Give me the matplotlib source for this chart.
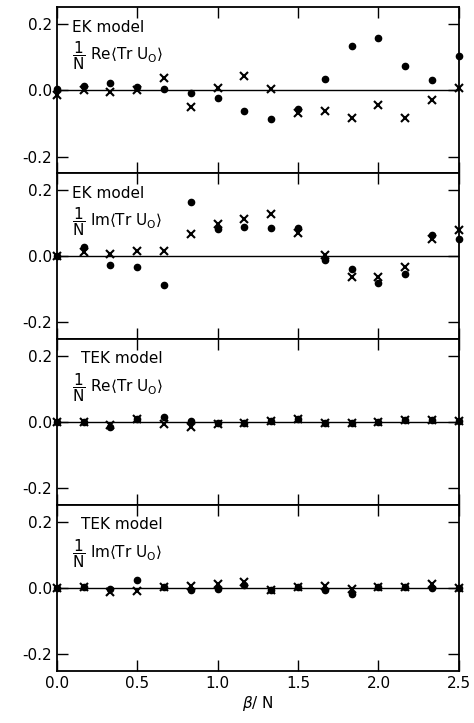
import matplotlib
matplotlib.use("Agg")
import matplotlib.pyplot as plt

# beta/N grid, 16 points spaced 1/6
beta = [0.0, 1/6, 2/6, 0.5, 4/6, 5/6, 1.0, 7/6, 8/6, 1.5, 10/6, 11/6, 2.0, 13/6, 14/6, 2.5]

ek_re_dot = [0.003, 0.012, 0.022, 0.011, 0.005, -0.007, -0.023, -0.064, -0.088, -0.057,
             0.034, 0.132, 0.158, 0.072, 0.032, 0.104]
ek_re_x = [-0.014, 0.002, -0.006, 0.0, 0.036, -0.050, 0.008, 0.042, 0.005, -0.068,
           -0.063, -0.085, -0.045, -0.085, -0.030, 0.006]

ek_im_dot = [0.0, 0.026, -0.027, -0.034, -0.086, 0.163, 0.083, 0.087, 0.085, 0.085,
             -0.012, -0.040, -0.082, -0.055, 0.065, 0.051]
ek_im_x = [0.0, 0.013, 0.006, 0.015, 0.015, 0.068, 0.098, 0.113, 0.128, 0.071,
           0.003, -0.062, -0.062, -0.032, 0.053, 0.080]

tek_re_dot = [0.0, 0.0, -0.014, 0.008, 0.015, 0.002, -0.004, -0.003, 0.002, 0.010,
              -0.002, -0.004, 0.001, 0.007, 0.007, 0.002]
tek_re_x = [0.0, -0.001, -0.010, 0.008, -0.007, -0.015, -0.005, -0.003, 0.002, 0.010,
            -0.003, -0.003, 0.001, 0.007, 0.007, 0.002]

tek_im_dot = [0.0, 0.002, -0.002, 0.023, 0.003, -0.007, -0.002, 0.008, -0.007, 0.003,
              -0.005, -0.017, 0.003, 0.002, 0.0, 0.0]
tek_im_x = [0.0, 0.003, -0.012, -0.009, 0.003, 0.006, 0.013, 0.017, -0.007, 0.003,
            0.007, -0.002, 0.003, 0.003, 0.011, 0.0]

frac = r"$\dfrac{\mathrm{1}}{\mathrm{N}}$"
panels = [
    ("EK model", frac + r" Re$\langle$Tr U$_\mathrm{O}\rangle$", ek_re_dot, ek_re_x),
    ("EK model", frac + r" Im$\langle$Tr U$_\mathrm{O}\rangle$", ek_im_dot, ek_im_x),
    ("TEK model", frac + r" Re$\langle$Tr U$_\mathrm{O}\rangle$", tek_re_dot, tek_re_x),
    ("TEK model", frac + r" Im$\langle$Tr U$_\mathrm{O}\rangle$", tek_im_dot, tek_im_x),
]

plt.rcParams['font.family'] = ['DejaVu Sans']
plt.rcParams['mathtext.fontset'] = 'dejavusans'

fig = plt.figure(figsize=(4.74, 7.23), dpi=100)
fig.subplots_adjust(left=0.12, right=0.968, top=0.99, bottom=0.072, hspace=0)
axes = fig.subplots(4, 1, sharex=True)

for ax, (title, label, dots, crosses) in zip(axes, panels):
    ax.axhline(0.0, color='black', lw=1.0, zorder=1)
    ax.plot(beta, dots, 'o', color='black', ms=4.5, zorder=3, clip_on=False)
    ax.plot(beta, crosses, 'x', color='black', ms=6, mew=1.5, zorder=3, clip_on=False)
    ax.set_xlim(0, 2.5)
    ax.set_ylim(-0.25, 0.25)
    ax.set_yticks([-0.2, 0.0, 0.2])
    ax.set_yticklabels(['-0.2', '0.0', '0.2'])
    ax.set_xticks([0.0, 0.5, 1.0, 1.5, 2.0, 2.5])
    ax.tick_params(axis='both', direction='in', length=8, width=1.0,
                   top=True, right=True, labelsize=11)
    for s in ax.spines.values():
        s.set_linewidth(1.3)
    tx = 0.037 if title.startswith("EK") else 0.06
    ax.text(tx, 0.88, title, transform=ax.transAxes, fontsize=11, va='center', ha='left')
    ax.text(0.037, 0.71, label, transform=ax.transAxes, fontsize=11, va='center', ha='left')

axes[-1].set_xticklabels(['0.0', '0.5', '1.0', '1.5', '2.0', '2.5'])
axes[-1].set_xlabel(r"$\beta$/ N", fontsize=11, labelpad=2)

fig.savefig("out.png", dpi=100)
plt.close()
